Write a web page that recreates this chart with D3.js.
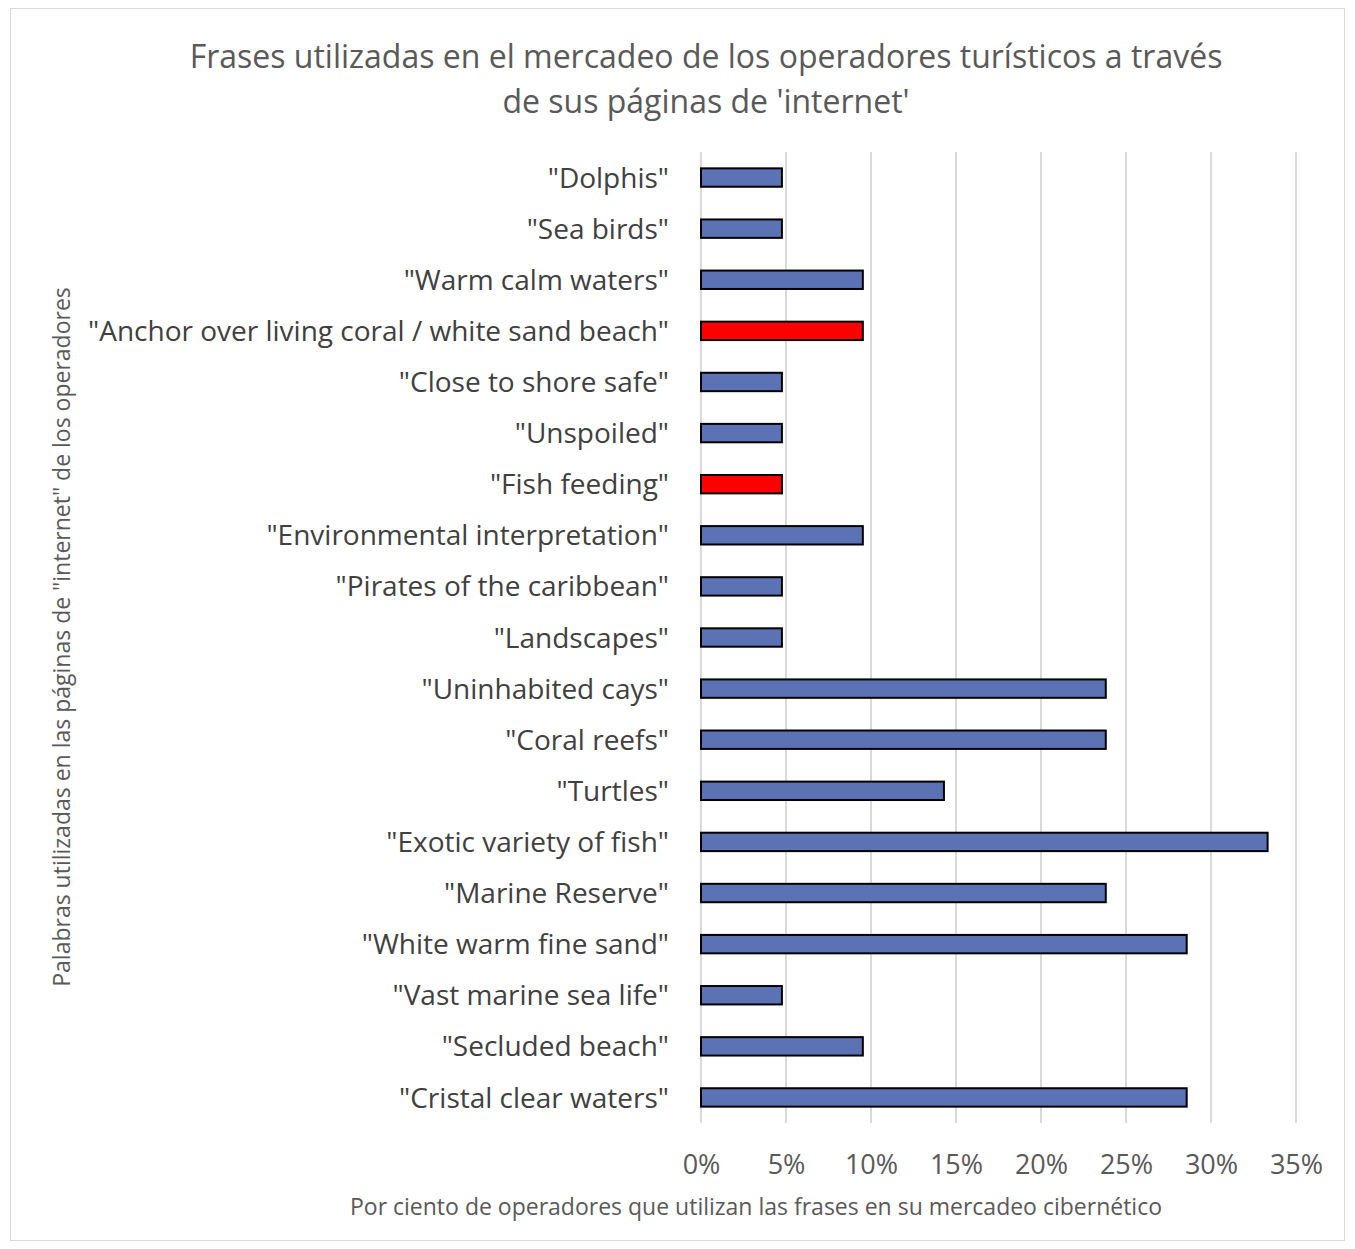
<!DOCTYPE html>
<html>
<head>
<meta charset="utf-8">
<script src="https://cdn.jsdelivr.net/npm/d3@7"></script>
<style>
  body { margin: 0; background: #fff; }
  text { font-family: "Open Sans", sans-serif; fill: #595959; }
</style>
</head>
<body>
<div id="chart-area"></div>
<script>
// data, top to bottom as in the chart
var phrases = ['"Dolphis"', '"Sea birds"', '"Warm calm waters"', '"Anchor over living coral / white sand beach"',
  '"Close to shore safe"', '"Unspoiled"', '"Fish feeding"', '"Environmental interpretation"',
  '"Pirates of the caribbean"', '"Landscapes"', '"Uninhabited cays"', '"Coral reefs"', '"Turtles"',
  '"Exotic variety of fish"', '"Marine Reserve"', '"White warm fine sand"', '"Vast marine sea life"',
  '"Secluded beach"', '"Cristal clear waters"']
var percents = [0.0476, 0.0476, 0.0952, 0.0952, 0.0476, 0.0476, 0.0476, 0.0952, 0.0476, 0.0476,
  0.2381, 0.2381, 0.1429, 0.3333, 0.2381, 0.2857, 0.0476, 0.0952, 0.2857]
var highlighted = ['"Anchor over living coral / white sand beach"', '"Fish feeding"']
var xTicks = [0, 0.05, 0.10, 0.15, 0.20, 0.25, 0.30, 0.35]

var data = phrases.map((p, i) => ({phrase: p, value: percents[i]}))

var W = 1355, H = 1249
var margin = {top: 152, left: 701, right: W - 1296, bottom: H - 1123}
var width = W - margin.left - margin.right
var height = H - margin.top - margin.bottom

var svg = d3.select("#chart-area").append("svg")
  .attr("width", W).attr("height", H)

// chart frame
svg.append("rect")
  .attr("x", 10.5).attr("y", 8.5)
  .attr("width", W - 21).attr("height", H - 17)
  .attr("fill", "#fff").attr("stroke", "#d9d9d9")

var g = svg.append("g").attr("transform", `translate(${margin.left}, ${margin.top})`)

var x = d3.scaleLinear().domain([0, 0.35]).range([0, width])
var y = d3.scaleBand().domain(phrases).range([0, height]).paddingInner(0.64).paddingOuter(0.32)

// gridlines
g.selectAll(".grid").data(xTicks).enter().append("line")
  .attr("class", "grid")
  .attr("x1", d => x(d)).attr("x2", d => x(d))
  .attr("y1", 0).attr("y2", height)
  .attr("stroke", "#d9d9d9").attr("stroke-width", 2)

// bars
g.selectAll(".bar").data(data).enter().append("rect")
  .attr("class", "bar")
  .attr("x", 0)
  .attr("y", d => y(d.phrase))
  .attr("width", d => x(d.value))
  .attr("height", y.bandwidth())
  .attr("fill", d => highlighted.includes(d.phrase) ? "#ff0000" : "#5b72b4")
  .attr("stroke", "#000").attr("stroke-width", 2)

// category labels
var leftAxis = d3.axisLeft(y).tickSize(0).tickPadding(32)
g.append("g").attr("class", "left axis").call(leftAxis)
  .call(a => a.select(".domain").remove())
  .selectAll("text").style("font-size", "28px").style("fill", "#404040")
  .attr("dy", "0.36em")

// x tick labels
var bottomAxis = d3.axisBottom(x).tickValues(xTicks).tickSize(0).tickPadding(32).tickFormat(d3.format(".0%"))
g.append("g").attr("class", "bottom axis")
  .attr("transform", `translate(0, ${height})`)
  .call(bottomAxis)
  .call(a => a.select(".domain").remove())
  .selectAll("text").style("font-size", "27px").style("fill", "#595959")

// title
svg.append("text")
  .attr("x", 706).attr("y", 68)
  .attr("text-anchor", "middle").attr("font-size", "32px")
  .text("Frases utilizadas en el mercadeo de los operadores turísticos a través")
svg.append("text")
  .attr("x", 706).attr("y", 113)
  .attr("text-anchor", "middle").attr("font-size", "32px")
  .text("de sus páginas de 'internet'")

// axis titles
svg.append("text")
  .attr("x", 756).attr("y", 1215)
  .attr("text-anchor", "middle").attr("font-size", "23px")
  .text("Por ciento de operadores que utilizan las frases en su mercadeo cibernético")
svg.append("text")
  .attr("transform", "translate(70, 637) rotate(-90)")
  .attr("text-anchor", "middle").attr("font-size", "23px")
  .text("Palabras utilizadas en las páginas de \"internet\" de los operadores")
</script>
</body>
</html>
